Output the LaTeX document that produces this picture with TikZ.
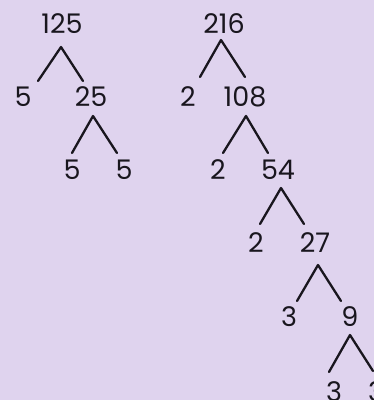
\documentclass[tikz,border=0pt]{standalone}
\usepackage{fontspec}
\setmainfont{Poppins}
\definecolor{bg}{RGB}{223,211,238}
\definecolor{ink}{RGB}{25,22,30}
\begin{document}
\begin{tikzpicture}[x=1pt,y=-1pt,
  num/.style={inner sep=0pt, text=ink, font=\fontsize{27}{27}\selectfont, anchor=center},
  caret/.style={draw=ink, line width=2.3pt, line join=round, line cap=round}]
\useasboundingbox (0,0) rectangle (374,400);
\clip (0,0) rectangle (374,400);
\fill[bg] (0,0) rectangle (374,400);
% tree 125
\node[num] (n125) at (62,24) {125};
\node[num] (n5a) at (23,97) {5};
\node[num] (n25) at (91,97) {25};
\node[num] (n5b) at (72,170) {5};
\node[num] (n5c) at (124,170) {5};
\coordinate (t1) at (61,47); \coordinate (t1l) at (38,81); \coordinate (t1r) at (83,81);
\coordinate (t2) at (93,116); \coordinate (t2l) at (72,153); \coordinate (t2r) at (117,153);
\draw[caret] (t1l) -- (t1) -- (t1r);
\draw[caret] (t2l) -- (t2) -- (t2r);
% tree 216
\node[num] (n216) at (224,24) {216};
\node[num] (n2a) at (188,97) {2};
\node[num] (n108) at (245,97) {108};
\node[num] (n2b) at (218,170) {2};
\node[num] (n54) at (278,170) {54};
\node[num] (n2c) at (256,243) {2};
\node[num] (n27) at (315,243) {27};
\node[num] (n3a) at (289,317) {3};
\node[num] (n9) at (350,317) {9};
\node[num] (n3b) at (334,392) {3};
\node[num] (n3c) at (376,392) {3};
\coordinate (s1) at (221,40); \coordinate (s1l) at (200,77); \coordinate (s1r) at (245,77);
\coordinate (s2) at (246,116); \coordinate (s2l) at (223,153); \coordinate (s2r) at (268,153);
\coordinate (s3) at (281,188); \coordinate (s3l) at (260,224); \coordinate (s3r) at (304,224);
\coordinate (s4) at (318,265); \coordinate (s4l) at (297,301); \coordinate (s4r) at (341,301);
\coordinate (s5) at (350,335); \coordinate (s5l) at (329,372); \coordinate (s5r) at (373,371);
\draw[caret] (s1l) -- (s1) -- (s1r);
\draw[caret] (s2l) -- (s2) -- (s2r);
\draw[caret] (s3l) -- (s3) -- (s3r);
\draw[caret] (s4l) -- (s4) -- (s4r);
\draw[caret] (s5l) -- (s5) -- (s5r);
\end{tikzpicture}
\end{document}
